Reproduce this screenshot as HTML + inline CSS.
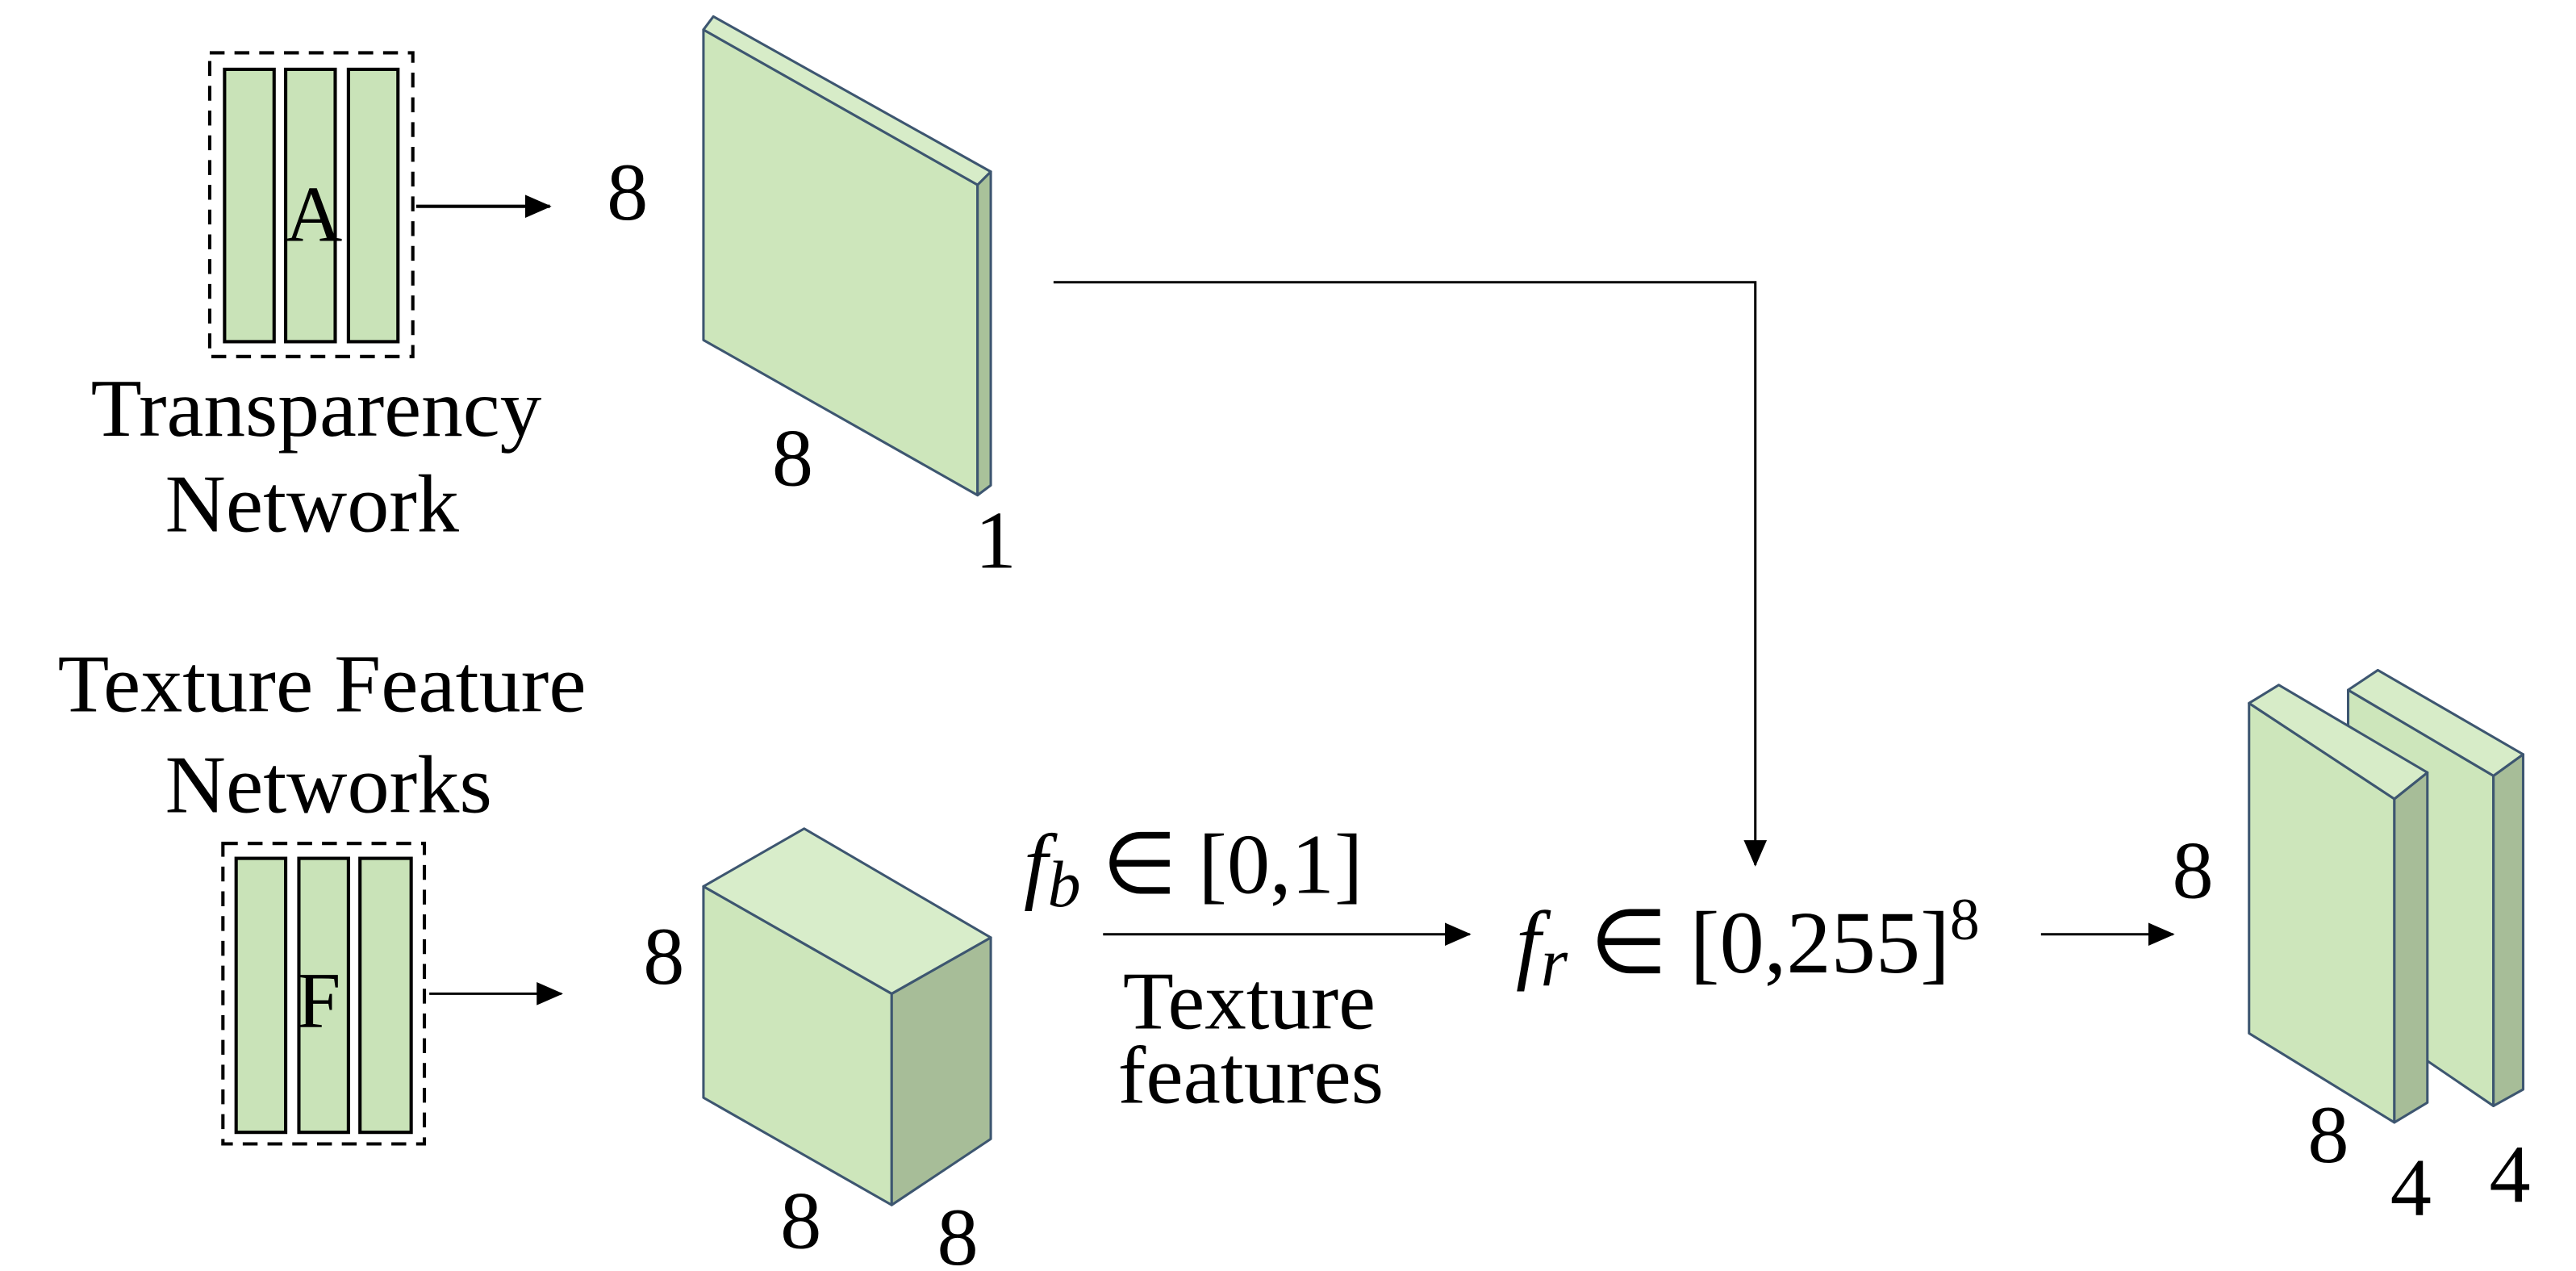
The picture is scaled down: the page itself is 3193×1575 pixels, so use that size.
<!DOCTYPE html>
<html><head><meta charset="utf-8"><style>
html,body{margin:0;padding:0;background:#fff;}
svg{display:block;}
text{font-family:"Liberation Serif",serif;fill:#000;}
</style></head><body>
<svg width="3193" height="1575" viewBox="0 0 1560 770" preserveAspectRatio="none" xmlns="http://www.w3.org/2000/svg">
<defs>
<marker id="ah2" markerWidth="16" markerHeight="14" refX="15" refY="7" orient="auto" markerUnits="userSpaceOnUse">
<path d="M0,0 L16,7 L0,14 z" fill="#000"/></marker>
</defs>
<!-- Transparency network box -->
<rect x="127" y="32" width="123" height="184" fill="none" stroke="#000" stroke-width="2" stroke-dasharray="9,6"/>
<g fill="#c9e3b8" stroke="#000" stroke-width="2">
<rect x="136" y="42" width="30" height="165"/><rect x="173" y="42" width="30" height="165"/><rect x="211" y="42" width="30" height="165"/>
</g>
<text x="190" y="146" font-size="48" text-anchor="middle">A</text>
<line x1="252" y1="125" x2="333" y2="125" stroke="#000" stroke-width="2" marker-end="url(#ah2)"/>
<text x="55" y="264" font-size="50" textLength="273" lengthAdjust="spacingAndGlyphs">Transparency</text>
<text x="100" y="322" font-size="50" textLength="178" lengthAdjust="spacingAndGlyphs">Network</text>
<text x="380" y="133" font-size="50" text-anchor="middle">8</text>
<!-- slab -->
<g stroke="#3d5670" stroke-width="1.5" stroke-linejoin="round">
<polygon points="426,18 592,112 592,300 426,206" fill="#cde6bb"/>
<polygon points="592,112 600,104 600,294 592,300" fill="#a9c29a"/>
<polygon points="426,18 432,10 600,104 592,112" fill="#d7ecc8"/>
</g>
<text x="480" y="294" font-size="50" text-anchor="middle">8</text>
<text x="603" y="344" font-size="50" text-anchor="middle">1</text>
<!-- connector -->
<polyline points="638,171 1063,171 1063,524" fill="none" stroke="#000" stroke-width="1.5" marker-end="url(#ah2)"/>
<!-- Texture feature networks -->
<text x="35" y="431" font-size="50" textLength="320" lengthAdjust="spacingAndGlyphs">Texture Feature</text>
<text x="100" y="492" font-size="50" textLength="198" lengthAdjust="spacingAndGlyphs">Networks</text>
<rect x="135" y="511" width="122" height="182" fill="none" stroke="#000" stroke-width="2" stroke-dasharray="9,6"/>
<g fill="#c9e3b8" stroke="#000" stroke-width="2">
<rect x="143" y="520" width="30" height="166"/><rect x="181" y="520" width="30" height="166"/><rect x="218" y="520" width="31" height="166"/>
</g>
<text x="193" y="622" font-size="48" text-anchor="middle">F</text>
<line x1="260" y1="602" x2="340" y2="602" stroke="#000" stroke-width="1.5" marker-end="url(#ah2)"/>
<!-- cube -->
<g stroke="#3d5670" stroke-width="1.5" stroke-linejoin="round">
<polygon points="426,537 540,602 540,730 426,665" fill="#cde6bb"/>
<polygon points="540,602 600,568 600,690 540,730" fill="#a7bd98"/>
<polygon points="426,537 487,502 600,568 540,602" fill="#d8edca"/>
</g>
<text x="402" y="596" font-size="50" text-anchor="middle">8</text>
<text x="485" y="756" font-size="50" text-anchor="middle">8</text>
<text x="580" y="766" font-size="50" text-anchor="middle">8</text>
<!-- fb -->
<text x="620" y="541" font-size="52"><tspan font-style="italic">f</tspan><tspan font-style="italic" font-size="40" dy="8">b</tspan><tspan dy="-8"> ∈ [0,1]</tspan></text>
<line x1="668" y1="566" x2="890" y2="566" stroke="#000" stroke-width="1.5" marker-end="url(#ah2)"/>
<text x="680" y="623" font-size="50" textLength="153" lengthAdjust="spacingAndGlyphs">Texture</text>
<text x="677" y="668" font-size="50" textLength="161" lengthAdjust="spacingAndGlyphs">features</text>
<!-- fr -->
<text x="918" y="589" font-size="54"><tspan font-style="italic">f</tspan><tspan font-style="italic" font-size="42" dy="8">r</tspan><tspan dy="-8"> ∈ [0,255]</tspan><tspan font-size="36" dy="-20">8</tspan></text>
<line x1="1236" y1="566" x2="1316" y2="566" stroke="#000" stroke-width="1.5" marker-end="url(#ah2)"/>
<text x="1328" y="544" font-size="50" text-anchor="middle">8</text>
<!-- two slabs -->
<g stroke="#3d5670" stroke-width="1.5" stroke-linejoin="round">
<polygon points="1422,418 1510,470 1510,670 1422,610" fill="#cde6bb"/>
<polygon points="1510,470 1528,457 1528,660 1510,670" fill="#a7bd98"/>
<polygon points="1422,418 1440,406 1528,457 1510,470" fill="#d7ecc8"/>
<polygon points="1362,426 1450,484 1450,680 1362,626" fill="#cde6bb"/>
<polygon points="1450,484 1470,468 1470,668 1450,680" fill="#a7bd98"/>
<polygon points="1362,426 1380,415 1470,468 1450,484" fill="#d7ecc8"/>
</g>
<text x="1410" y="704" font-size="50" text-anchor="middle">8</text>
<text x="1460" y="736" font-size="50" text-anchor="middle">4</text>
<text x="1520" y="728" font-size="50" text-anchor="middle">4</text>
</svg>
</body></html>
